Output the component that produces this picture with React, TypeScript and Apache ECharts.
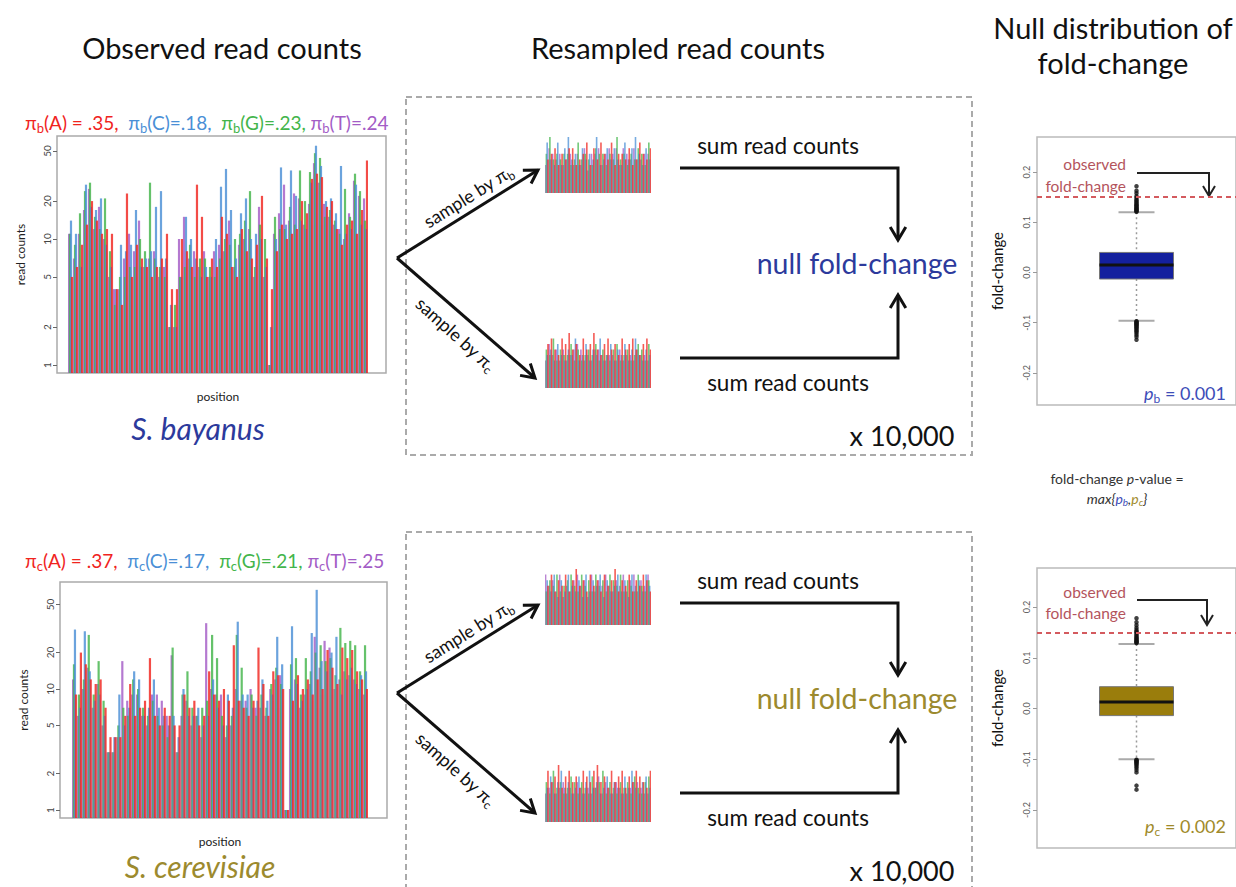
import React, { useEffect, useRef } from 'react';
import * as echarts from 'echarts';

const FONT = 'Lato, "Open Sans", "DejaVu Sans", sans-serif';
const RED = '#f0241e';
const BLUE = '#4a8fd6';
const GREEN = '#43b54b';
const PURPLE = '#a35cc6';
const NAVY = '#2c3a9c';
const OLIVE = '#9c8a2e';

// ---------- Observed read counts, S. bayanus (per position, A/C/G/T) ----------
const A_B = [5,6,9,13,20,14,11,12,11,4, 3,23,5,9,7,6,5,6,7,11, 4,4,10,8,6,27,15,5,7,6, 15,11,6,5,12,8,7,9,22,7, 4,8,13,10,11,12,20,16,30,33, 31,18,20,12,9,13,14,11,17,42];
const C_B = [14,11,6,27,18,17,21,9,6,4, 9,8,9,17,6,7,8,18,24,7, 3,2,5,15,10,7,5,6,5,10, 26,36,17,7,16,21,10,11,10,6, 2,10,37,13,35,22,14,12,28,55, 38,20,21,16,38,11,12,27,13,12];
const G_B = [11,9,16,24,28,15,12,21,8,3, 5,5,6,6,10,8,28,7,6,5, 2,3,5,6,9,5,7,7,6,5, 7,10,9,10,11,14,24,6,13,10, 1,15,12,12,18,13,35,20,34,48, 44,15,17,14,11,25,15,33,24,14];
const T_B = [11,7,11,17,25,12,18,10,5,4, 4,7,11,8,14,6,7,8,5,6, 2,2,10,15,7,8,6,8,5,8, 9,8,14,6,9,10,12,5,18,5, 1,11,16,27,14,23,21,13,19,40, 28,19,15,13,12,10,16,29,22,21];

// ---------- Observed read counts, S. cerevisiae ----------
const A_C = [9,20,16,12,11,12,7,4,4,4, 6,11,6,7,8,18,6,5,7,6, 5,5,9,7,8,5,6,14,9,8, 10,8,23,8,7,6,8,22,11,6, 14,13,10,1,8,13,10,12,9,12, 10,21,15,11,22,18,21,14,12,10];
const C_C = [31,7,30,14,8,9,6,3,4,9, 5,7,14,12,6,7,12,7,6,5, 6,4,10,6,6,7,5,6,12,7, 5,9,7,36,9,9,7,8,12,8, 9,27,16,1,33,11,8,10,29,66, 17,14,20,27,9,12,15,11,13,14];
const G_C = [16,9,12,28,9,17,8,3,3,5, 7,6,12,10,7,6,8,6,5,4, 22,3,9,14,7,6,7,8,28,18, 6,5,6,28,15,7,9,6,9,7, 11,15,11,1,16,18,9,18,14,20, 23,17,18,13,32,24,25,23,14,23];
const T_C = [12,6,10,15,7,11,5,3,3,4, 17,8,9,9,6,5,9,9,8,6, 19,3,6,8,5,6,4,35,10,9, 9,4,5,10,8,8,10,7,7,6, 10,12,13,1,10,12,7,9,11,27, 15,25,22,10,12,14,13,12,10,9];

// ---------- Resampled read counts (mini panels) ----------
const MB1_A = [6,7,8,5,7,6,8,8,5,6,7,9,5,8,6,9,7,6,9,5,7,7,6,8,5,6,9,7,6,8];
const MB1_C = [9,6,5,9,5,8,10,6,7,5,8,6,7,6,10,5,6,8,6,8,6,5,9,6,8,10,7,5,8,6];
const MB1_G = [7,10,6,7,6,7,7,5,6,9,6,7,6,5,8,7,7,5,7,6,10,6,7,5,7,6,8,7,5,9];
const MB1_T = [5,8,7,6,7,5,6,7,5,7,5,8,4,7,7,8,5,7,8,7,8,5,8,7,6,8,6,6,7,7];

const MC1_A = [8,9,7,6,9,8,10,7,8,6,9,7,8,10,7,6,8,9,7,8,6,9,7,8,9,7,6,8,9,7];
const MC1_C = [6,7,5,8,6,5,7,6,9,5,6,8,5,7,6,9,5,6,8,5,7,6,8,5,7,9,6,5,7,6];
const MC1_G = [7,6,9,5,7,6,6,8,5,7,5,6,7,6,8,5,7,6,5,7,8,5,6,7,5,6,8,7,5,8];
const MC1_T = [5,8,6,7,5,7,5,6,7,8,7,5,6,5,7,7,6,5,6,6,5,7,5,6,6,5,7,6,6,5];

const MB2_A = [7,9,6,8,7,9,6,8,10,7,8,6,9,7,8,6,9,7,8,10,6,8,7,9,6,8,7,9,8,6];
const MB2_C = [8,6,9,5,8,6,9,7,6,8,5,9,6,8,7,9,5,8,6,7,9,6,8,5,9,7,8,6,9,7];
const MB2_G = [6,8,7,9,6,7,8,9,7,6,9,7,8,6,9,7,8,6,9,8,7,9,6,8,7,6,9,7,6,8];
const MB2_T = [9,7,8,6,9,5,7,6,8,9,7,8,5,9,6,8,7,9,7,6,8,7,9,6,8,9,6,8,7,9];

const MC2_A = [9,7,8,10,6,8,9,7,8,6,9,8,7,9,10,7,8,6,9,7,8,9,6,8,7,9,8,7,6,9];
const MC2_C = [6,8,5,7,9,6,7,5,6,8,5,7,9,6,7,5,6,8,5,7,6,5,8,6,9,6,5,7,8,6];
const MC2_G = [7,5,9,6,7,5,6,8,7,5,7,6,5,8,6,7,9,5,7,6,5,7,6,7,5,8,6,5,7,8];
const MC2_T = [5,6,7,5,6,7,5,6,5,7,6,5,6,5,6,8,5,7,6,5,7,6,5,5,6,7,7,6,5,5];

// ---------- Null distribution of fold-change ----------
// [lower whisker, Q1, median, Q3, upper whisker]
const STATS_B = [-0.096, -0.013, 0.015, 0.04, 0.12];
const STATS_C = [-0.1, -0.014, 0.013, 0.043, 0.127];
const OUT_B = [0.121,0.122,0.124,0.125,0.127,0.128,0.13,0.132,0.134,0.135,0.138,0.14,0.143,0.145,0.149,0.152,0.158,0.163,0.172,
  -0.097,-0.098,-0.1,-0.101,-0.103,-0.104,-0.106,-0.108,-0.11,-0.112,-0.115,-0.117,-0.12,-0.124,-0.128,-0.134];
const OUT_C = [0.129,0.13,0.132,0.133,0.135,0.137,0.139,0.141,0.144,0.147,0.15,0.152,0.155,0.159,0.164,0.17,0.178,
  -0.101,-0.102,-0.104,-0.105,-0.107,-0.109,-0.111,-0.114,-0.117,-0.121,-0.126,-0.152,-0.16];
const OBSERVED_B = 0.15;
const OBSERVED_C = 0.155;

const READ_TICKS = [1, 2, 5, 10, 20, 50];
const FC_TICKS = [-0.2, -0.1, 0, 0.1, 0.2];
const YMIN_B = 0.864, YMAX_B = 65.7;
const YMIN_C = 0.859, YMAX_C = 76.6;

const posCats = A_B.map((_, i) => String(i + 1));
const miniCats = MB1_A.map((_, i) => String(i + 1));

function logBars(idx: number, ymin: number, sets: any[]) {
  return sets.map(([name, data, color]) => ({
    type: 'bar', name, xAxisIndex: idx, yAxisIndex: idx,
    data: (data as number[]).map((v) => Math.log10(v / ymin)),
    barWidth: 2.2, barGap: '-55%', silent: true,
    itemStyle: { color, opacity: 0.82 },
  }));
}
function miniBars(idx: number, sets: any[]) {
  return sets.map(([name, data, color]) => ({
    type: 'bar', name, xAxisIndex: idx, yAxisIndex: idx, data,
    barWidth: 1.6, barGap: '-50%', silent: true,
    itemStyle: { color, opacity: 0.75 },
  }));
}
const hiddenCat = (gridIndex: number, data: string[], extra: any = {}) => ({
  type: 'category', gridIndex, data,
  axisLine: { show: false }, axisTick: { show: false }, axisLabel: { show: false }, splitLine: { show: false },
  ...extra,
});
const readAxis = (gridIndex: number, ymin: number, ymax: number, offset: number) => {
  const cv = READ_TICKS.map((t) => Math.log10(t / ymin));
  return {
    type: 'value', gridIndex, min: 0, max: Math.log10(ymax / ymin), offset,
    splitLine: { show: false }, axisLine: { show: false },
    axisTick: { show: true, customValues: cv, length: 4, lineStyle: { color: '#666' } },
    axisLabel: {
      customValues: cv, rotate: 90, fontSize: 10, color: '#444', margin: 5, fontFamily: FONT,
      formatter: (v: number) => {
        const i = cv.findIndex((c) => Math.abs(c - v) < 1e-6);
        return i >= 0 ? String(READ_TICKS[i]) : '';
      },
    },
    name: 'read counts', nameLocation: 'middle', nameRotate: 90, nameGap: 31,
    nameTextStyle: { fontSize: 12, color: '#222', fontFamily: FONT },
  };
};
const fcAxis = (gridIndex: number, min: number, max: number) => ({
  type: 'value', gridIndex, min, max, splitLine: { show: false }, axisLine: { show: false },
  axisTick: { show: true, customValues: FC_TICKS, length: 4, lineStyle: { color: '#999' } },
  axisLabel: { customValues: FC_TICKS, rotate: 90, fontSize: 9, color: '#555', margin: 6, fontFamily: FONT,
    formatter: (v: number) => (Math.abs(v) < 1e-9 ? '0.0' : v.toFixed(1)) },
  name: 'fold-change', nameLocation: 'middle', nameRotate: 90, nameGap: 33,
  nameTextStyle: { fontSize: 15, color: '#111', fontFamily: FONT },
});
const boxRender = (fill: string) => (params: any, api: any) => {
  const lo = api.coord([0, api.value(1)]);
  const q1 = api.coord([0, api.value(2)]);
  const md = api.coord([0, api.value(3)]);
  const q3 = api.coord([0, api.value(4)]);
  const hi = api.coord([0, api.value(5)]);
  const cx = lo[0];
  const hw = 37, cw = 18;
  const dot = { stroke: '#9a9a9a', lineWidth: 1.5, lineDash: [2, 3] };
  const cap = { stroke: '#aaa', lineWidth: 2 };
  return {
    type: 'group',
    children: [
      { type: 'line', shape: { x1: cx, y1: hi[1], x2: cx, y2: q3[1] }, style: dot },
      { type: 'line', shape: { x1: cx, y1: q1[1], x2: cx, y2: lo[1] }, style: dot },
      { type: 'line', shape: { x1: cx - cw, y1: hi[1], x2: cx + cw, y2: hi[1] }, style: cap },
      { type: 'line', shape: { x1: cx - cw, y1: lo[1], x2: cx + cw, y2: lo[1] }, style: cap },
      { type: 'rect', shape: { x: cx - hw, y: q3[1], width: 2 * hw, height: q1[1] - q3[1] }, style: { fill, stroke: '#777', lineWidth: 1 } },
      { type: 'line', shape: { x1: cx - hw, y1: md[1], x2: cx + hw, y2: md[1] }, style: { stroke: '#111', lineWidth: 3 } },
    ],
  };
};

function arrow(pts: number[][], color = '#111', w = 3, head = 13): any[] {
  const n = pts.length;
  const [tx, ty] = pts[n - 1];
  const [fx, fy] = pts[n - 2];
  const dx = tx - fx, dy = ty - fy;
  const L = Math.hypot(dx, dy);
  const ux = dx / L, uy = dy / L;
  const px = -uy, py = ux;
  const hw = head * 0.6;
  return [
    { type: 'polyline', shape: { points: pts }, style: { stroke: color, lineWidth: w } },
    { type: 'polyline', shape: { points: [[tx - head * ux + hw * px, ty - head * uy + hw * py], [tx, ty], [tx - head * ux - hw * px, ty - head * uy - hw * py]] },
      style: { stroke: color, lineWidth: w } },
  ];
}
function txt(text: string, x: number, y: number, size: number, fill = '#111', extra: any = {}, el: any = {}) {
  return { type: 'text', x, y, ...el, style: { text, fontSize: size, fontFamily: FONT, fill, align: 'center', verticalAlign: 'middle', ...extra } };
}
const sub = (fill: string, size = 13) => ({ fill, fontSize: size, fontFamily: FONT, lineHeight: 14, padding: [11, 0, 0, 0] });
const main = (fill: string, size = 19, italic = false) => ({ fill, fontSize: size, fontFamily: FONT, lineHeight: 25, fontStyle: italic ? 'italic' : 'normal' });

function piRow(x: number, y: number, s: string, vals: string[]) {
  return {
    type: 'text', x, y,
    style: {
      text: `{a|π}{as|${s}}{a|(A) = ${vals[0]},  }{c|π}{cs|${s}}{c|(C)=${vals[1]},  }{g|π}{gs|${s}}{g|(G)=${vals[2]}, }{t|π}{ts|${s}}{t|(T)=${vals[3]}}`,
      align: 'left', verticalAlign: 'middle', fontFamily: FONT, fontSize: 19,
      rich: {
        a: main(RED), as: sub(RED), c: main(BLUE), cs: sub(BLUE),
        g: main(GREEN), gs: sub(GREEN), t: main(PURPLE), ts: sub(PURPLE),
      },
    },
  };
}
function sampleLabel(x: number, y: number, s: string, rot: number) {
  return {
    type: 'text', x, y, rotation: rot,
    style: {
      text: `{n|sample by π}{s|${s}}`, align: 'center', verticalAlign: 'middle', fontFamily: FONT, fontSize: 18,
      rich: { n: { fill: '#111', fontSize: 18, fontFamily: FONT, lineHeight: 24 }, s: { fill: '#111', fontSize: 12, fontFamily: FONT, lineHeight: 13, padding: [11, 0, 0, 0] } },
    },
  };
}
function middle(dy: number, nfColor: string): any[] {
  return [
    { type: 'rect', shape: { x: 406, y: 97 + dy, width: 566, height: 358 }, style: { fill: 'none', stroke: '#aaa', lineWidth: 2, lineDash: [6, 4] } },
    ...arrow([[397, 258 + dy], [538, 170 + dy]]),
    ...arrow([[397, 258 + dy], [535, 378 + dy]]),
    ...arrow([[680, 168 + dy], [898, 168 + dy], [898, 240 + dy]]),
    ...arrow([[680, 358 + dy], [898, 358 + dy], [898, 295 + dy]]),
    txt('sum read counts', 778, 145 + dy, 22.5),
    txt('sum read counts', 788, 382 + dy, 22.5),
    txt('null fold-change', 857, 263 + dy, 28.5, nfColor),
    txt('x 10,000', 902, 435 + dy, 27),
    sampleLabel(468, 196 + dy, 'b', (32 * Math.PI) / 180),
    sampleLabel(456, 334 + dy, 'c', (-42 * Math.PI) / 180),
  ];
}
function pLabel(x: number, y: number, s: string, val: string, color: string) {
  return {
    type: 'text', x, y,
    style: {
      text: `{p|p}{s|${s}}{n| = ${val}}`, align: 'right', verticalAlign: 'middle', fontFamily: FONT, fontSize: 18,
      rich: { p: main(color, 18, true), s: sub(color, 12), n: main(color, 18) },
    },
  };
}

export default function App() {
  const ref = useRef<HTMLDivElement>(null);
  useEffect(() => {
    if (!ref.current) return;
    const chart = echarts.init(ref.current, null, { renderer: 'svg' });
    const OBS = '#b4545c';
    const option: any = {
      animation: false,
      backgroundColor: '#ffffff',
      grid: [
        { left: 68, top: 136, width: 300, height: 237 },
        { left: 72, top: 582, width: 296, height: 236 },
        { left: 545, top: 137, width: 106, height: 56 },
        { left: 545, top: 333, width: 106, height: 55 },
        { left: 545, top: 569, width: 106, height: 56 },
        { left: 545, top: 765, width: 106, height: 57 },
        { left: 1037, top: 137, width: 200, height: 268, show: true, borderColor: '#bbb', borderWidth: 1.5 },
        { left: 1037, top: 568, width: 200, height: 280, show: true, borderColor: '#bbb', borderWidth: 1.5 },
      ],
      xAxis: [
        hiddenCat(0, posCats, { name: 'position', nameLocation: 'middle', nameGap: 17, nameTextStyle: { fontSize: 12, color: '#222', fontFamily: FONT } }),
        hiddenCat(1, posCats, { name: 'position', nameLocation: 'middle', nameGap: 17, nameTextStyle: { fontSize: 12, color: '#222', fontFamily: FONT } }),
        hiddenCat(2, miniCats),
        hiddenCat(3, miniCats),
        hiddenCat(4, miniCats),
        hiddenCat(5, miniCats),
        hiddenCat(6, ['fc']),
        hiddenCat(7, ['fc']),
      ],
      yAxis: [
        readAxis(0, YMIN_B, YMAX_B, 11),
        readAxis(1, YMIN_C, YMAX_C, 12),
        { type: 'value', gridIndex: 2, min: 0, max: 10, show: false },
        { type: 'value', gridIndex: 3, min: 0, max: 10, show: false },
        { type: 'value', gridIndex: 4, min: 0, max: 10, show: false },
        { type: 'value', gridIndex: 5, min: 0, max: 10, show: false },
        fcAxis(6, -0.264, 0.27),
        fcAxis(7, -0.275, 0.277),
      ],
      series: [
        ...logBars(0, YMIN_B, [['T', T_B, PURPLE], ['G', G_B, GREEN], ['C', C_B, BLUE], ['A', A_B, RED]]),
        ...logBars(1, YMIN_C, [['T', T_C, PURPLE], ['G', G_C, GREEN], ['C', C_C, BLUE], ['A', A_C, RED]]),
        ...miniBars(2, [['T', MB1_T, PURPLE], ['G', MB1_G, GREEN], ['C', MB1_C, BLUE], ['A', MB1_A, RED]]),
        ...miniBars(3, [['T', MC1_T, PURPLE], ['G', MC1_G, GREEN], ['C', MC1_C, BLUE], ['A', MC1_A, RED]]),
        ...miniBars(4, [['T', MB2_T, PURPLE], ['G', MB2_G, GREEN], ['C', MB2_C, BLUE], ['A', MB2_A, RED]]),
        ...miniBars(5, [['T', MC2_T, PURPLE], ['G', MC2_G, GREEN], ['C', MC2_C, BLUE], ['A', MC2_A, RED]]),
        { type: 'custom', xAxisIndex: 6, yAxisIndex: 6, data: [[0, ...STATS_B]], renderItem: boxRender('#14209e'), silent: true, encode: { x: 0, y: [1, 2, 3, 4, 5] } },
        { type: 'custom', xAxisIndex: 7, yAxisIndex: 7, data: [[0, ...STATS_C]], renderItem: boxRender('#9a7d0c'), silent: true, encode: { x: 0, y: [1, 2, 3, 4, 5] } },
        {
          type: 'scatter', xAxisIndex: 6, yAxisIndex: 6, data: OUT_B.map((v) => [0, v]), symbolSize: 4.5, silent: true,
          itemStyle: { color: '#111' }, z: 4,
          markLine: { silent: true, symbol: ['none', 'none'], label: { show: false }, lineStyle: { color: '#d45a5e', type: [5, 4], width: 2 }, data: [{ yAxis: OBSERVED_B }] },
        },
        {
          type: 'scatter', xAxisIndex: 7, yAxisIndex: 7, data: OUT_C.map((v) => [0, v]), symbolSize: 4.5, silent: true,
          itemStyle: { color: '#111' }, z: 4,
          markLine: { silent: true, symbol: ['none', 'none'], label: { show: false }, lineStyle: { color: '#d45a5e', type: [5, 4], width: 2 }, data: [{ yAxis: OBSERVED_C }] },
        },
      ],
      graphic: [
        txt('Observed read counts', 222, 47, 29),
        txt('Resampled read counts', 678, 47, 29),
        txt('Null distribution of', 1113, 27, 29),
        txt('fold-change', 1113, 62, 29),
        piRow(25, 122, 'b', ['.35', '.18', '.23', '.24']),
        piRow(25, 560, 'c', ['.37', '.17', '.21', '.25']),
        { type: 'rect', shape: { x: 57, y: 136, width: 329, height: 237 }, style: { fill: 'none', stroke: '#aaa', lineWidth: 1.5 } },
        { type: 'rect', shape: { x: 60, y: 582, width: 327, height: 236 }, style: { fill: 'none', stroke: '#aaa', lineWidth: 1.5 } },
        txt('S. bayanus', 198, 428, 30, NAVY, { fontStyle: 'italic' }),
        txt('S. cerevisiae', 200, 866, 30, OLIVE, { fontStyle: 'italic' }),
        ...middle(0, NAVY),
        ...middle(435, OLIVE),
        txt('observed', 1126, 164, 15.5, OBS, { align: 'right' }),
        txt('fold-change', 1126, 186, 15.5, OBS, { align: 'right' }),
        ...arrow([[1137, 173], [1209, 173], [1209, 196]], '#222', 2, 10),
        txt('observed', 1126, 592, 15.5, OBS, { align: 'right' }),
        txt('fold-change', 1126, 613, 15.5, OBS, { align: 'right' }),
        ...arrow([[1137, 600], [1207, 600], [1207, 625]], '#222', 2, 10),
        pLabel(1226, 393, 'b', '0.001', '#3d4db8'),
        pLabel(1226, 826, 'c', '0.002', '#a08a2a'),
        {
          type: 'text', x: 1117, y: 478,
          style: { text: '{n|fold-change }{i|p}{n|-value =}', align: 'center', verticalAlign: 'middle', fontFamily: FONT, fontSize: 14,
            rich: { n: { fill: '#333', fontSize: 14, fontFamily: FONT }, i: { fill: '#333', fontSize: 14, fontFamily: FONT, fontStyle: 'italic' } } },
        },
        {
          type: 'text', x: 1117, y: 498,
          style: { text: '{i|max\u007B}{b|p}{bs|b}{i|,}{c|p}{cs|c}}', align: 'center', verticalAlign: 'middle', fontFamily: FONT, fontSize: 14, fontStyle: 'italic', fill: '#333',
            rich: {
              i: { fill: '#333', fontSize: 14, fontFamily: FONT, fontStyle: 'italic', lineHeight: 18 },
              b: { fill: '#3d4db8', fontSize: 14, fontFamily: FONT, fontStyle: 'italic', lineHeight: 18 },
              bs: { fill: '#3d4db8', fontSize: 10, fontFamily: FONT, fontStyle: 'italic', lineHeight: 10, padding: [8, 0, 0, 0] },
              c: { fill: '#a08a2a', fontSize: 14, fontFamily: FONT, fontStyle: 'italic', lineHeight: 18 },
              cs: { fill: '#a08a2a', fontSize: 10, fontFamily: FONT, fontStyle: 'italic', lineHeight: 10, padding: [8, 0, 0, 0] },
            } },
        },
      ],
    };
    chart.setOption(option);
    return () => chart.dispose();
  }, []);
  return <div ref={ref} style={{ position: 'absolute', left: 0, top: 0, width: 1236, height: 887 }} />;
}
